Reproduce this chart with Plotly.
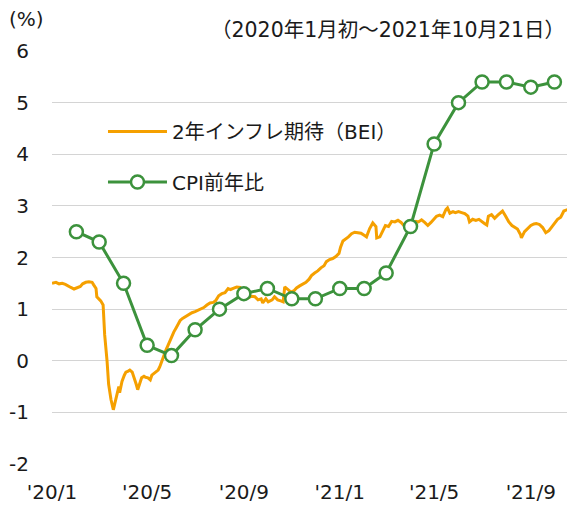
import plotly.graph_objects as go

# ---- data ----
bei_dates = [
    "2020-01-01", "2020-01-06", "2020-01-10", "2020-01-14", "2020-01-18", "2020-01-21", "2020-01-25", "2020-01-29",
    "2020-02-02", "2020-02-06", "2020-02-09", "2020-02-13", "2020-02-17", "2020-02-21", "2020-02-23", "2020-02-26",
    "2020-02-27", "2020-03-01", "2020-03-03", "2020-03-06", "2020-03-08", "2020-03-11", "2020-03-13", "2020-03-16",
    "2020-03-19", "2020-03-21", "2020-03-24", "2020-03-26", "2020-03-27", "2020-03-30", "2020-04-02", "2020-04-04",
    "2020-04-07", "2020-04-09", "2020-04-12", "2020-04-14", "2020-04-17", "2020-04-19", "2020-04-22", "2020-04-24",
    "2020-04-27", "2020-04-29", "2020-05-02", "2020-05-05", "2020-05-07", "2020-05-10", "2020-05-12", "2020-05-15",
    "2020-05-17", "2020-05-20", "2020-05-22", "2020-05-25", "2020-05-27", "2020-05-30", "2020-06-01", "2020-06-04",
    "2020-06-07", "2020-06-09", "2020-06-12", "2020-06-15", "2020-06-19", "2020-06-23", "2020-06-27", "2020-07-01",
    "2020-07-05", "2020-07-08", "2020-07-12", "2020-07-16", "2020-07-20", "2020-07-24", "2020-07-27", "2020-07-31",
    "2020-08-04", "2020-08-08", "2020-08-12", "2020-08-15", "2020-08-19", "2020-08-23", "2020-08-27", "2020-08-31",
    "2020-09-04", "2020-09-07", "2020-09-11", "2020-09-15", "2020-09-19", "2020-09-23", "2020-09-25", "2020-09-29",
    "2020-10-02", "2020-10-04", "2020-10-07", "2020-10-10", "2020-10-14", "2020-10-18", "2020-10-21", "2020-10-23",
    "2020-10-27", "2020-10-31", "2020-11-04", "2020-11-07", "2020-11-11", "2020-11-15", "2020-11-19", "2020-11-23",
    "2020-11-26", "2020-11-30", "2020-12-04", "2020-12-08", "2020-12-12", "2020-12-15", "2020-12-19", "2020-12-23",
    "2020-12-27", "2020-12-31", "2021-01-02", "2021-01-05", "2021-01-09", "2021-01-12", "2021-01-16", "2021-01-20",
    "2021-01-24", "2021-01-28", "2021-02-01", "2021-02-04", "2021-02-08", "2021-02-12", "2021-02-16", "2021-02-17",
    "2021-02-21", "2021-02-25", "2021-02-28", "2021-03-04", "2021-03-08", "2021-03-12", "2021-03-16", "2021-03-20",
    "2021-03-23", "2021-03-27", "2021-03-31", "2021-04-04", "2021-04-08", "2021-04-11", "2021-04-15", "2021-04-19",
    "2021-04-23", "2021-04-27", "2021-04-30", "2021-05-04", "2021-05-08", "2021-05-12", "2021-05-16", "2021-05-18",
    "2021-05-21", "2021-05-25", "2021-05-28", "2021-06-01", "2021-06-05", "2021-06-09", "2021-06-13", "2021-06-15",
    "2021-06-19", "2021-06-23", "2021-06-27", "2021-06-30", "2021-07-04", "2021-07-07", "2021-07-09", "2021-07-13",
    "2021-07-17", "2021-07-21", "2021-07-25", "2021-07-27", "2021-07-31", "2021-08-04", "2021-08-08", "2021-08-11",
    "2021-08-15", "2021-08-19", "2021-08-20", "2021-08-24", "2021-08-28", "2021-09-01", "2021-09-05", "2021-09-08",
    "2021-09-12", "2021-09-16", "2021-09-20", "2021-09-24", "2021-09-27", "2021-10-01", "2021-10-05", "2021-10-09",
    "2021-10-13", "2021-10-21",
]
bei_values = [
    1.50, 1.52, 1.49, 1.50, 1.48, 1.46, 1.42, 1.39,
    1.41, 1.44, 1.49, 1.52, 1.53, 1.52, 1.47, 1.40,
    1.24, 1.20, 1.16, 1.08, 0.50, 0.00, -0.45, -0.75,
    -0.95, -0.82, -0.60, -0.50, -0.62, -0.40, -0.28, -0.22,
    -0.20, -0.18, -0.22, -0.30, -0.45, -0.56, -0.40, -0.33,
    -0.30, -0.32, -0.33, -0.37, -0.28, -0.24, -0.22, -0.18,
    -0.12, 0.02, 0.10, 0.21, 0.28, 0.38, 0.48, 0.56,
    0.64, 0.70, 0.78, 0.82, 0.86, 0.90, 0.93, 0.95,
    0.98, 1.00, 1.03, 1.08, 1.12, 1.13, 1.16, 1.26,
    1.30, 1.32, 1.40, 1.38, 1.40, 1.43, 1.42, 1.30,
    1.26, 1.22, 1.25, 1.24, 1.18, 1.20, 1.12, 1.20,
    1.14, 1.16, 1.18, 1.24, 1.18, 1.16, 1.14, 1.43,
    1.38, 1.33, 1.36, 1.41, 1.45, 1.48, 1.52, 1.58,
    1.65, 1.70, 1.74, 1.80, 1.84, 1.92, 1.96, 1.98,
    2.02, 2.08, 2.20, 2.32, 2.36, 2.40, 2.46, 2.49,
    2.48, 2.47, 2.43, 2.40, 2.56, 2.67, 2.60, 2.38,
    2.40, 2.54, 2.62, 2.60, 2.70, 2.69, 2.72, 2.68,
    2.63, 2.65, 2.62, 2.66, 2.70, 2.69, 2.73, 2.68,
    2.62, 2.68, 2.74, 2.80, 2.82, 2.79, 2.93, 2.96,
    2.86, 2.89, 2.87, 2.89, 2.87, 2.85, 2.80, 2.69,
    2.74, 2.72, 2.74, 2.70, 2.66, 2.63, 2.80, 2.83,
    2.76, 2.82, 2.87, 2.90, 2.80, 2.69, 2.62, 2.59,
    2.55, 2.44, 2.38, 2.50, 2.56, 2.62, 2.65, 2.66,
    2.64, 2.58, 2.48, 2.52, 2.58, 2.66, 2.74, 2.78,
    2.90, 2.95,
]

cpi_dates = [
    "2020-02-01", "2020-03-01", "2020-04-01", "2020-05-01", "2020-06-01", "2020-07-01", "2020-08-01",
    "2020-09-01", "2020-10-01", "2020-11-01", "2020-12-01", "2021-01-01", "2021-02-01", "2021-03-01",
    "2021-04-01", "2021-05-01", "2021-06-01", "2021-07-01", "2021-08-01", "2021-09-01", "2021-10-01",
]
cpi_values = [2.5, 2.3, 1.5, 0.3, 0.1, 0.6, 1.0, 1.3, 1.4, 1.2, 1.2, 1.4, 1.4, 1.7, 2.6, 4.2, 5.0, 5.4, 5.4, 5.3, 5.4]

x_tick_vals = ["2020-01-01", "2020-05-01", "2020-09-01", "2021-01-01", "2021-05-01", "2021-09-01"]
x_tick_text = ["'20/1", "'20/5", "'20/9", "'21/1", "'21/5", "'21/9"]
y_tick_vals = [-2, -1, 0, 1, 2, 3, 4, 5, 6]
y_tick_text = ["-2", "-1", "0", "1", "2", "3", "4", "5", "6"]

bei_name = "2年インフレ期待（BEI）"
cpi_name = "CPI前年比"
period_text = "（2020年1月初～2021年10月21日）"
unit_text = "(%)"

ORANGE = "#F5A000"
GREEN = "#3C923C"
FONT = "DejaVu Sans, Noto Sans CJK JP, sans-serif"
TXT = "#1a1a1a"
x_range = ["2020-01-01", "2021-10-17"]

fig = go.Figure()
fig.add_trace(go.Scatter(
    x=bei_dates, y=bei_values, name=bei_name, mode="lines",
    line=dict(color=ORANGE, width=3), legend="legend",
))
fig.add_trace(go.Scatter(
    x=cpi_dates, y=cpi_values, name=cpi_name, mode="lines+markers",
    line=dict(color=GREEN, width=3),
    marker=dict(size=13, color="white", line=dict(color=GREEN, width=2.5)),
    legend="legend2",
))

fig.update_layout(
    width=567, height=506,
    margin=dict(l=52, r=0, t=51, b=42),
    paper_bgcolor="white", plot_bgcolor="white",
    font=dict(family=FONT, size=20, color=TXT),
    xaxis=dict(
        type="date", range=x_range, tickvals=x_tick_vals, ticktext=x_tick_text,
        showgrid=False, showline=False, zeroline=False, ticks="",
        ticklabelstandoff=14, tickfont=dict(size=20, color=TXT),
    ),
    xaxis2=dict(
        type="date", range=x_range, overlaying="x", anchor="free", position=0.25,
        tickvals=x_tick_vals, showticklabels=False, showgrid=False, zeroline=False,
        showline=True, linecolor="#8c8c8c", linewidth=1,
        ticks="inside", ticklen=8, tickcolor="#8c8c8c", tickwidth=1,
    ),
    yaxis=dict(
        range=[-2, 6], tickvals=y_tick_vals, ticktext=y_tick_text,
        showgrid=True, gridcolor="#d4d4d4", gridwidth=1, zeroline=False,
        showline=False, ticks="", ticklabelstandoff=22,
        tickfont=dict(size=20, color=TXT),
    ),
    showlegend=True,
    legend=dict(x=0.099, y=0.805, xanchor="left", yanchor="middle",
                bgcolor="rgba(0,0,0,0)", font=dict(size=20, color=TXT), itemwidth=59),
    legend2=dict(x=0.099, y=0.683, xanchor="left", yanchor="middle",
                 bgcolor="rgba(0,0,0,0)", font=dict(size=20, color=TXT), itemwidth=59),
    annotations=[
        dict(text=period_text, xref="paper", yref="paper", x=1.0, y=1.051,
             xanchor="right", yanchor="middle", showarrow=False, font=dict(size=20.5, color=TXT)),
        dict(text=unit_text, xref="paper", yref="paper", x=-0.050, y=1.077,
             xanchor="center", yanchor="middle", showarrow=False, font=dict(size=20, color=TXT)),
    ],
)

# remove the browser's default page margin so the figure sits at the window origin
fig.write_html(
    "out.html",
    config={"displayModeBar": False},
    post_script="document.body.style.margin='0';document.body.style.overflow='hidden';",
)
